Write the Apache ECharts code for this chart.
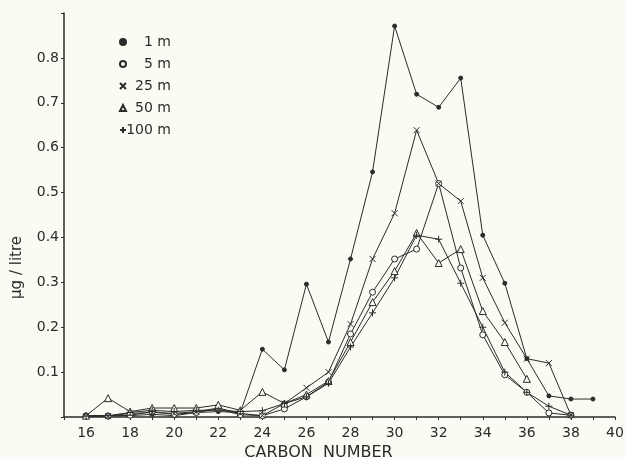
<!DOCTYPE html>
<html>
<head>
<meta charset="utf-8">
<script src="https://cdn.jsdelivr.net/npm/echarts@6/dist/echarts.min.js"></script>
<style>
  html, body { margin: 0; padding: 0; background: #fbfbf3; }
  #chart { width: 625px; height: 457px; }
</style>
</head>
<body>
<div id="chart"></div>
<script>
// carbon numbers 16..39
const carbon = [16, 17, 18, 19, 20, 21, 22, 23, 24, 25, 26, 27, 28, 29, 30, 31, 32, 33, 34, 35, 36, 37, 38, 39];

// µg / litre by depth (each starts at C16)
const depth1m   = [0.003, 0.003, 0.003, 0.006, 0.003, 0.010, 0.012, 0.010, 0.151, 0.105, 0.296, 0.167, 0.352, 0.546, 0.871, 0.719, 0.690, 0.755, 0.405, 0.298, 0.130, 0.047, 0.040, 0.040];
const depth5m   = [0.002, 0.002, 0.004, 0.012, 0.006, 0.010, 0.018, 0.005, 0.003, 0.018, 0.045, 0.078, 0.185, 0.278, 0.352, 0.374, 0.520, 0.332, 0.183, 0.094, 0.055, 0.009, 0.004];
const depth25m  = [0.002, 0.002, 0.008, 0.010, 0.008, 0.012, 0.020, 0.008, 0.003, 0.030, 0.065, 0.100, 0.207, 0.352, 0.454, 0.639, 0.520, 0.481, 0.310, 0.210, 0.130, 0.120, 0.004];
const depth50m  = [0.003, 0.042, 0.012, 0.020, 0.020, 0.020, 0.027, 0.015, 0.056, 0.030, 0.050, 0.080, 0.167, 0.256, 0.325, 0.410, 0.343, 0.374, 0.236, 0.167, 0.085];
const depth100m = [0.002, 0.003, 0.010, 0.015, 0.012, 0.015, 0.015, 0.012, 0.014, 0.030, 0.045, 0.075, 0.156, 0.232, 0.310, 0.405, 0.396, 0.298, 0.200, 0.100, 0.055, 0.024, 0.004];

const ink = '#2b2b2b';
const paper = '#fbfbf3';
const font = 'DejaVu Sans';

const pairs = vals => vals.map((v, i) => [carbon[i], v]);

// marker look per depth
const marks = [
  { name: '1 m',   data: depth1m,   symbol: 'circle',   size: 4, fill: ink },
  { name: '5 m',   data: depth5m,   symbol: 'circle',   size: 6, fill: paper },
  { name: '25 m',  data: depth25m,  symbol: 'path://M0,0L10,10M10,0L0,10', size: 6, fill: paper },
  { name: '50 m',  data: depth50m,  symbol: 'triangle', size: 7, fill: paper },
  { name: '100 m', data: depth100m, symbol: 'path://M5,0L5,10M0,5L10,5',   size: 7, fill: paper }
];

const chart = echarts.init(document.getElementById('chart'));

chart.setOption({
  backgroundColor: paper,
  animation: false,
  grid: { left: 64, right: 10, top: 13, bottom: 40, containLabel: false, outerBoundsMode: 'none' },
  legend: {
    orient: 'vertical',
    left: 114,
    top: 29,
    itemWidth: 6,
    itemHeight: 6,
    itemGap: 6,
    data: marks.map(m => ({ name: m.name, icon: m.symbol })),
    formatter: n => '{t|' + n + '}',
    textStyle: {
      color: ink,
      fontFamily: font,
      fontSize: 14,
      lineHeight: 16,
      rich: { t: { width: 40, align: 'right', fontSize: 14, fontFamily: font, color: ink } }
    }
  },
  xAxis: {
    type: 'value',
    min: 15,
    max: 40,
    interval: 1,
    name: 'CARBON  NUMBER',
    nameLocation: 'middle',
    nameGap: 17,
    nameTextStyle: { color: ink, fontFamily: font, fontSize: 16, padding: [0, 42, 0, 0] },
    axisLine: { lineStyle: { color: ink, width: 1.5 } },
    axisTick: { length: 3, lineStyle: { color: ink } },
    axisLabel: {
      color: ink,
      fontFamily: font,
      fontSize: 14,
      margin: 9,
      formatter: v => (v % 2 === 0 && v >= 16) ? String(v) : ''
    },
    splitLine: { show: false }
  },
  yAxis: {
    type: 'value',
    min: 0,
    max: 0.9,
    interval: 0.1,
    axisLine: { show: true, lineStyle: { color: ink, width: 1.5 } },
    axisTick: { show: true, length: 3, lineStyle: { color: ink } },
    axisLabel: {
      color: ink,
      fontFamily: font,
      fontSize: 14,
      margin: 5,
      formatter: v => (v > 0.05 && v < 0.85) ? v.toFixed(1) : ''
    },
    splitLine: { show: false }
  },
  graphic: [{
    type: 'text',
    left: 10,
    top: 236,
    rotation: Math.PI / 2,
    style: { text: 'μg / litre', fill: ink, font: '15px "DejaVu Sans"' }
  }],
  series: marks.map(m => ({
    name: m.name,
    type: 'line',
    data: pairs(m.data),
    symbol: m.symbol,
    symbolSize: m.size,
    lineStyle: { color: ink, width: 1 },
    itemStyle: { color: m.fill, borderColor: ink, borderWidth: 1 },
    emphasis: { disabled: true }
  }))
});
</script>
</body>
</html>
